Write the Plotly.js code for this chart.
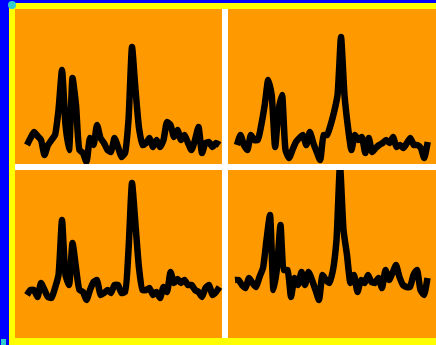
<!DOCTYPE html>
<html>
<head>
<meta charset="utf-8">
<script src="https://cdn.plot.ly/plotly-3.0.1.min.js"></script>
<style>html,body{margin:0;padding:0;background:#fff;}#chart{width:436px;height:345px;}</style>
</head>
<body>
<div id="chart"></div>
<script>
// Sample index (shared x for all panels)
const idx = Array.from({length: 56}, (_, i) => i);

// Intensities, one series per panel
const topLeft = [19,26,32,28,24,9,19,24,29,54,94,39,14,86,59,14,11,2,26,19,39,26,21,14,12,26,17,7,11,44,117,74,36,19,21,26,17,24,17,24,42,39,27,34,24,29,21,14,24,37,11,21,22,17,21,19];
const topRight = [19,29,19,14,29,24,24,39,59,84,69,17,54,69,14,6,14,22,26,29,19,32,21,12,4,29,29,39,52,69,127,69,37,14,29,24,27,11,26,12,16,19,21,24,21,27,17,19,16,21,26,19,19,16,6,22];
const bottomLeft = [43,48,48,41,55,48,41,40,50,63,118,63,53,95,70,48,46,38,48,56,58,43,45,48,45,53,53,45,46,88,155,113,70,48,48,50,43,46,40,51,46,66,55,59,55,58,53,53,48,46,41,50,53,43,46,51];
const bottomRight = [58,58,53,50,60,55,51,61,70,98,123,48,70,113,68,68,41,60,53,66,53,66,58,48,38,63,58,55,68,98,173,108,83,55,63,46,58,55,63,56,55,60,50,68,58,65,73,61,53,51,51,63,68,48,43,60];

const lineStyle = {color: '#000000', width: 6.5, shape: 'spline', smoothing: 0.5};
function tr(y, xa, ya) {
  return {x: idx, y: y, xaxis: xa, yaxis: ya, type: 'scatter', mode: 'lines', line: lineStyle, hoverinfo: 'none'};
}
const data = [
  tr(topLeft, 'x', 'y'),
  tr(topRight, 'x2', 'y2'),
  tr(bottomLeft, 'x3', 'y3'),
  tr(bottomRight, 'x4', 'y4')
];

const W = 421, H = 329; // plotting area in px (436-15, 345-9-7)
const px = v => (v - 15) / W;
const py = v => (338 - v) / H;

function ax(domain, range, anchor) {
  return {domain: domain, range: range, anchor: anchor, showgrid: false, zeroline: false,
          showticklabels: false, ticks: '', showline: false, fixedrange: true};
}
const xL = [0, px(222)], xR = [px(228), 1];
const yT = [py(164), 1], yB = [0, py(170)];

const layout = {
  width: 436, height: 345,
  margin: {l: 15, r: 0, t: 9, b: 7, pad: 0},
  paper_bgcolor: '#ffff00',
  plot_bgcolor: '#ff9900',
  showlegend: false,
  xaxis: ax(xL, [-3.43, 55.71], 'y'),
  yaxis: ax(yT, [0, 155], 'x'),
  xaxis2: ax(xR, [-2.59, 57.39], 'y2'),
  yaxis2: ax(yT, [0, 155], 'x2'),
  xaxis3: ax(xL, [-3.43, 55.71], 'y3'),
  yaxis3: ax(yB, [0, 168], 'x3'),
  xaxis4: ax(xR, [-2, 57.43], 'y4'),
  yaxis4: ax(yB, [0, 168], 'x4'),
  shapes: [
    {type: 'rect', xref: 'paper', yref: 'paper', layer: 'below', x0: px(222), x1: px(228), y0: 0, y1: 1, fillcolor: '#ffffff', line: {width: 0}},
    {type: 'rect', xref: 'paper', yref: 'paper', layer: 'below', x0: 0, x1: 1, y0: py(170), y1: py(164), fillcolor: '#ffffff', line: {width: 0}},
    {type: 'rect', xref: 'paper', yref: 'paper', layer: 'above', x0: px(0), x1: px(9), y0: py(345), y1: py(0), fillcolor: '#0000ff', line: {width: 0}},
    {type: 'rect', xref: 'paper', yref: 'paper', layer: 'above', x0: px(0), x1: px(436), y0: py(3), y1: py(0), fillcolor: '#0000ff', line: {width: 0}},
    {type: 'circle', xref: 'paper', yref: 'paper', layer: 'above', x0: px(8), x1: px(16), y0: py(9), y1: py(1), fillcolor: '#33cccc', line: {width: 0}},
    {type: 'rect', xref: 'paper', yref: 'paper', layer: 'above', x0: px(1), x1: px(6), y0: py(345), y1: py(339), fillcolor: '#33cccc', line: {width: 0}}
  ]
};

Plotly.newPlot('chart', data, layout, {displayModeBar: false, staticPlot: true});
</script>
</body>
</html>
